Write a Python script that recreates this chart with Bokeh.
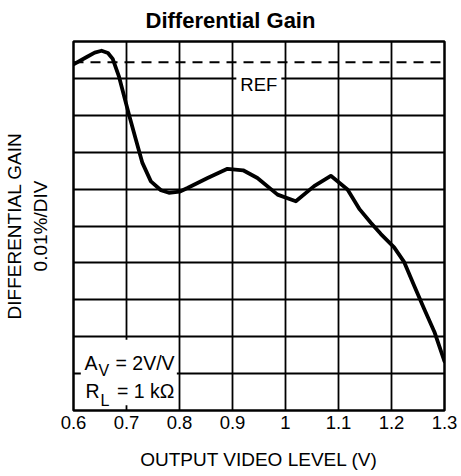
from bokeh.plotting import figure
from bokeh.models import Range1d, FixedTicker, Span, Label, BoxAnnotation
from bokeh.embed import file_html
from bokeh.resources import INLINE

# ---- data ----
OUTPUT_V = [0.600, 0.625, 0.640, 0.653, 0.665, 0.674, 0.686, 0.705, 0.7175, 0.730,
            0.746, 0.765, 0.780, 0.800, 0.815, 0.853, 0.8905, 0.920, 0.947, 0.985,
            1.0195, 1.054, 1.0855, 1.117, 1.140, 1.161, 1.180, 1.205, 1.224, 1.2426,
            1.2615, 1.281, 1.300]
DG_DIV = [9.38, 9.58, 9.70, 9.75, 9.69, 9.53, 9.04, 8.00, 7.35, 6.71,
          6.21, 5.97, 5.90, 5.93, 6.03, 6.30, 6.55, 6.51, 6.30, 5.85,
          5.67, 6.08, 6.36, 5.99, 5.45, 5.09, 4.78, 4.42, 4.02, 3.39,
          2.76, 2.13, 1.33]
X_TICKS = [0.6, 0.7, 0.8, 0.9, 1.0, 1.1, 1.2, 1.3]
X_TICK_LABELS = ["0.6", "0.7", "0.8", "0.9", "1", "1.1", "1.2", "1.3"]
Y_DIVS = list(range(0, 11))
REF_LEVEL = 9.44

FONT = "Liberation Sans"

p = figure(width=458, height=474, output_backend="svg", toolbar_location=None,
           x_range=Range1d(0.6, 1.3), y_range=Range1d(0, 10),
           min_border_left=73, min_border_right=14, min_border_top=38, min_border_bottom=64)

p.outline_line_color = "black"
p.outline_line_width = 2.5
p.outline_line_alpha = 1.0

# title
p.title.text = "Differential Gain"
p.title.text_font = FONT
p.title.text_font_size = "22px"
p.title.text_font_style = "bold"
p.title.text_color = "black"
p.title.align = "left"
p.title.offset = 72
p.title.standoff = 14
p.title.vertical_align = "top"

# y axis: label only
ya = p.yaxis[0]
ya.ticker = FixedTicker(ticks=[])
ya.axis_line_color = None
ya.major_tick_line_color = None
ya.minor_tick_line_color = None
ya.major_tick_out = 0
ya.major_label_standoff = 0
ya.axis_label = "DIFFERENTIAL GAIN\n0.01%/DIV"
ya.axis_label_text_font = FONT
ya.axis_label_text_font_size = "19px"
ya.axis_label_text_font_style = "normal"
ya.axis_label_text_color = "black"
ya.axis_label_text_align = "center"
ya.axis_label_standoff = 23

# x axis
xa = p.xaxis[0]
xa.ticker = FixedTicker(ticks=X_TICKS)
xa.major_label_overrides = {t: l for t, l in zip(X_TICKS, X_TICK_LABELS)}
xa.axis_line_color = None
xa.major_tick_line_color = None
xa.minor_tick_line_color = None
xa.major_tick_out = 0
xa.major_tick_in = 0
xa.major_label_standoff = 5
xa.major_label_text_font = FONT
xa.major_label_text_font_size = "18.5px"
xa.major_label_text_color = "black"
xa.axis_label = "OUTPUT VIDEO LEVEL (V)"
xa.axis_label_text_font = FONT
xa.axis_label_text_font_size = "19px"
xa.axis_label_text_font_style = "normal"
xa.axis_label_text_color = "black"
xa.axis_label_standoff = 17

# grid
p.xgrid.ticker = FixedTicker(ticks=X_TICKS)
p.ygrid.ticker = FixedTicker(ticks=Y_DIVS)
for g in (p.xgrid, p.ygrid):
    g.grid_line_color = "black"
    g.grid_line_width = 1.8
    g.grid_line_alpha = 1.0

# REF dashed line
p.add_layout(Span(location=REF_LEVEL, dimension="width", line_color="black",
                  line_width=2, line_dash="10 7"))

# curve
p.line(OUTPUT_V, DG_DIV, line_color="black", line_width=3.8, line_join="round", line_cap="round")

# REF label
p.add_layout(Label(x=0.9497, y=8.84, text="REF", text_align="center", text_baseline="middle",
                   text_font=FONT, text_font_size="18.5px", text_color="black",
                   background_fill_color="white", background_fill_alpha=1.0, padding=4))

# white box for conditions
p.add_layout(BoxAnnotation(left=0.6138, right=0.795, bottom=0.143, top=1.918,
                           fill_color="white", fill_alpha=1.0, line_color=None))

def lab(x, y, text, size, **kw):
    p.add_layout(Label(x=x, y=y, x_units="screen", y_units="screen", text=text,
                       text_font=FONT, text_font_size=size, text_color="black", **kw))

# conditions text (screen units relative to frame)
lab(11, 48, "A", "19.5px", text_baseline="alphabetic")
lab(25, 40, "V", "16px", text_baseline="alphabetic")
lab(42, 48, "= 2V/V", "19.5px", text_baseline="alphabetic")
lab(12, 20, "R", "19.5px", text_baseline="alphabetic")
lab(27, 10, "L", "16px", text_baseline="alphabetic")
lab(43.5, 20, "= 1 k\u03a9", "19.5px", text_baseline="alphabetic")

open("out.html", "w").write(file_html(p, INLINE))
